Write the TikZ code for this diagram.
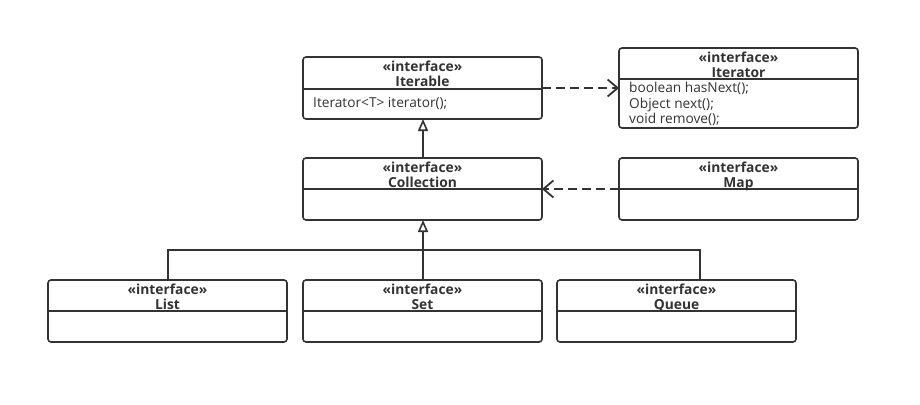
\documentclass[tikz,border=0pt]{standalone}
\usepackage{fontspec}
\setmainfont{Open Sans}
\usetikzlibrary{arrows.meta}
\definecolor{linec}{HTML}{333333}
\begin{document}
\begin{tikzpicture}[x=1pt,y=-1pt,
  box/.style={draw=linec, line width=1.6pt, rounded corners=3pt, minimum width=239pt, minimum height=62pt, inner sep=0pt, outer sep=0pt, anchor=north west},
  hdr/.style={inner sep=0pt, font=\fontsize{13.8}{15}\selectfont\bfseries, text=linec, align=center, anchor=north},
  meth/.style={inner sep=0pt, font=\fontsize{13.7}{15.5}\selectfont, text=linec, align=left, anchor=north west},
  divline/.style={draw=linec, line width=1.6pt},
  dep/.style={draw=linec, line width=1.6pt, dash pattern=on 9pt off 5pt, -{Straight Barb[length=10pt,width=17pt,line width=1.8pt]}},
  gen/.style={draw=linec, line width=1.8pt, -{Triangle[open,fill=white,length=12pt,width=10pt,line width=1.6pt]}},
  assoc/.style={draw=linec, line width=1.8pt}]
\useasboundingbox (0,0) rectangle (920,404);
% boxes
\node[box] (iterable) at (303,57) {};
\node[box, minimum height=80pt] (iterator) at (619,48) {};
\node[box] (collection) at (303,158) {};
\node[box] (map) at (619,158) {};
\node[box] (list) at (48,280) {};
\node[box] (set) at (303,280) {};
\node[box] (queue) at (557,280) {};
% dividers
\foreach \n/\d in {iterable/32,iterator/31,collection/31,map/31,list/31,set/31,queue/31}{
  \draw[divline] ([yshift=-\d pt]\n.north west) -- ([yshift=-\d pt]\n.north east);
}
% headers
\node[hdr] (hiterable) at ([yshift=-4pt]iterable.north) {«interface»\\Iterable};
\node[hdr] (hiterator) at ([yshift=-4pt]iterator.north) {«interface»\\Iterator};
\node[hdr] (hcollection) at ([yshift=-4pt]collection.north) {«interface»\\Collection};
\node[hdr] (hmap) at ([yshift=-4pt]map.north) {«interface»\\Map};
\node[hdr] (hlist) at ([yshift=-4pt]list.north) {«interface»\\List};
\node[hdr] (hset) at ([yshift=-4pt]set.north) {«interface»\\Set};
\node[hdr] (hqueue) at ([yshift=-4pt]queue.north) {«interface»\\Queue};
% methods
\node[meth] (miterable) at (313,97) {Iterator<T> iterator();};
\node[meth] (miterator) at (629,82) {boolean hasNext();\\Object next();\\void remove();};
% connectors
\draw[dep] (iterable.east) -- (iterator.west);
\draw[dep] (map.west) -- (collection.east);
\draw[gen] ([xshift=0.5pt]collection.north) -- ([xshift=0.5pt]iterable.south);
\draw[gen] ([xshift=0.5pt]set.north) -- ([xshift=0.5pt]collection.south);
\coordinate (busl) at (168,250);
\coordinate (busr) at (700,250);
\coordinate (qtop) at (700,280);
\draw[assoc] ([xshift=0.5pt]list.north) -- (busl) -- (busr) -- (qtop);
\end{tikzpicture}
\end{document}
